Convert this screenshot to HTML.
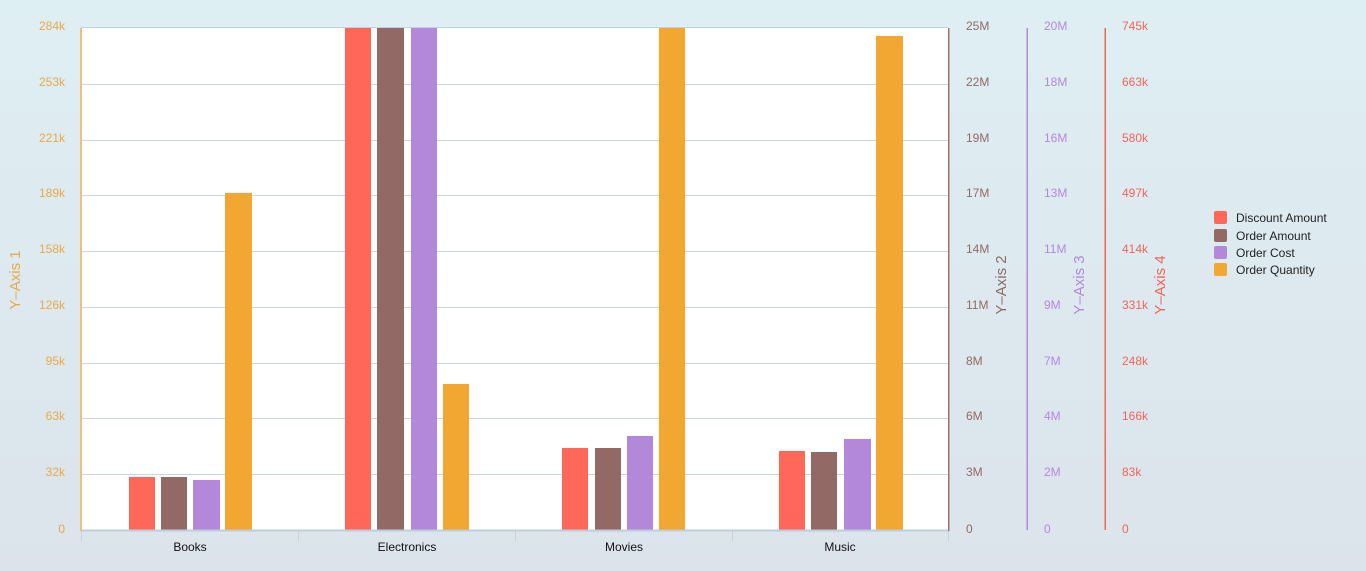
<!DOCTYPE html>
<html><head><meta charset="utf-8"><style>
html,body{margin:0;padding:0;}
body{width:1366px;height:571px;overflow:hidden;background:linear-gradient(#deeff3,#dce3eb);font-family:"Liberation Sans",sans-serif;}
svg{display:block;}
</style></head><body>
<svg width="1366" height="571" viewBox="0 0 1366 571" xmlns="http://www.w3.org/2000/svg" font-family="Liberation Sans, sans-serif">
<rect x="81" y="28" width="867" height="502" fill="#ffffff"/>
<g stroke="#cbd6e2" stroke-width="1">
<line x1="81" y1="27.5" x2="948" y2="27.5" stroke="#bfd0e0"/>
<line x1="81" y1="84.5" x2="948" y2="84.5"/>
<line x1="81" y1="140.5" x2="948" y2="140.5"/>
<line x1="81" y1="195.5" x2="948" y2="195.5"/>
<line x1="81" y1="251.5" x2="948" y2="251.5"/>
<line x1="81" y1="307.5" x2="948" y2="307.5"/>
<line x1="81" y1="363.5" x2="948" y2="363.5"/>
<line x1="81" y1="418.5" x2="948" y2="418.5"/>
<line x1="81" y1="474.5" x2="948" y2="474.5"/>
</g>
<g>
<rect x="129" y="477" width="26" height="53" fill="#ff6759"/>
<rect x="161" y="477" width="26" height="53" fill="#926964"/>
<rect x="193" y="480" width="27" height="50" fill="#b387d9"/>
<rect x="225" y="193" width="27" height="337" fill="#f2a732"/>

<rect x="345" y="28" width="26" height="502" fill="#ff6759"/>
<rect x="377" y="28" width="27" height="502" fill="#926964"/>
<rect x="411" y="28" width="26" height="502" fill="#b387d9"/>
<rect x="443" y="384" width="26" height="146" fill="#f2a732"/>

<rect x="562" y="448" width="26" height="82" fill="#ff6759"/>
<rect x="595" y="448" width="26" height="82" fill="#926964"/>
<rect x="627" y="436" width="26" height="94" fill="#b387d9"/>
<rect x="659" y="28" width="26" height="502" fill="#f2a732"/>

<rect x="779" y="451" width="26" height="79" fill="#ff6759"/>
<rect x="811" y="452" width="26" height="78" fill="#926964"/>
<rect x="844" y="439" width="27" height="91" fill="#b387d9"/>
<rect x="876" y="36" width="27" height="494" fill="#f2a732"/>
</g>
<line x1="81" y1="530.5" x2="948" y2="530.5" stroke="#bccddd" stroke-width="2"/>
<g stroke="#c8d2dc" stroke-width="1">
<line x1="81.5" y1="531" x2="81.5" y2="541"/>
<line x1="298.5" y1="531" x2="298.5" y2="541"/>
<line x1="515.5" y1="531" x2="515.5" y2="541"/>
<line x1="732.5" y1="531" x2="732.5" y2="541"/>
<line x1="948.5" y1="531" x2="948.5" y2="541"/>
</g>
<g font-size="12" fill="#111" text-anchor="middle">
<text x="190" y="551">Books</text>
<text x="407" y="551">Electronics</text>
<text x="624" y="551">Movies</text>
<text x="840" y="551">Music</text>
</g>
<rect x="80" y="28" width="2" height="503" fill="#e9c27e"/>
<rect x="948" y="28" width="1.5" height="503" fill="#a0726b"/>
<rect x="1026.5" y="28" width="1.5" height="502" fill="#b387d9"/>
<rect x="1104.5" y="28" width="1.5" height="502" fill="#f0655a"/>
<g font-size="12" fill="#e8a94a" text-anchor="end">
<text x="65" y="30">284k</text>
<text x="65" y="86">253k</text>
<text x="65" y="142">221k</text>
<text x="65" y="197">189k</text>
<text x="65" y="253">158k</text>
<text x="65" y="309">126k</text>
<text x="65" y="365">95k</text>
<text x="65" y="420">63k</text>
<text x="65" y="476">32k</text>
<text x="65" y="533">0</text>
</g>
<g font-size="12" fill="#8f6b64">
<text x="966" y="30">25M</text>
<text x="966" y="86">22M</text>
<text x="966" y="142">19M</text>
<text x="966" y="197">17M</text>
<text x="966" y="253">14M</text>
<text x="966" y="309">11M</text>
<text x="966" y="365">8M</text>
<text x="966" y="420">6M</text>
<text x="966" y="476">3M</text>
<text x="966" y="533">0</text>
</g>
<g font-size="12" fill="#b388dd">
<text x="1044" y="30">20M</text>
<text x="1044" y="86">18M</text>
<text x="1044" y="142">16M</text>
<text x="1044" y="197">13M</text>
<text x="1044" y="253">11M</text>
<text x="1044" y="309">9M</text>
<text x="1044" y="365">7M</text>
<text x="1044" y="420">4M</text>
<text x="1044" y="476">2M</text>
<text x="1044" y="533">0</text>
</g>
<g font-size="12" fill="#f0655a">
<text x="1122" y="30">745k</text>
<text x="1122" y="86">663k</text>
<text x="1122" y="142">580k</text>
<text x="1122" y="197">497k</text>
<text x="1122" y="253">414k</text>
<text x="1122" y="309">331k</text>
<text x="1122" y="365">248k</text>
<text x="1122" y="420">166k</text>
<text x="1122" y="476">83k</text>
<text x="1122" y="533">0</text>
</g>
<text transform="translate(20,280) rotate(-90)" font-size="15" fill="#e8a94a" text-anchor="middle">Y–Axis 1</text>
<text transform="translate(1006,285) rotate(-90)" font-size="15" fill="#8f6b64" text-anchor="middle">Y–Axis 2</text>
<text transform="translate(1084,285) rotate(-90)" font-size="15" fill="#b388dd" text-anchor="middle">Y–Axis 3</text>
<text transform="translate(1165,285) rotate(-90)" font-size="15" fill="#f0655a" text-anchor="middle">Y–Axis 4</text>
<rect x="1214" y="211" width="13" height="13" rx="2" fill="#ff6759"/>
<rect x="1214" y="229" width="13" height="13" rx="2" fill="#926964"/>
<rect x="1214" y="246" width="13" height="13" rx="2" fill="#b387d9"/>
<rect x="1214" y="263" width="13" height="13" rx="2" fill="#f2a732"/>
<g font-size="12" fill="#222">
<text x="1236" y="222">Discount Amount</text>
<text x="1236" y="240">Order Amount</text>
<text x="1236" y="257">Order Cost</text>
<text x="1236" y="274">Order Quantity</text>
</g>
</svg>
</body></html>
